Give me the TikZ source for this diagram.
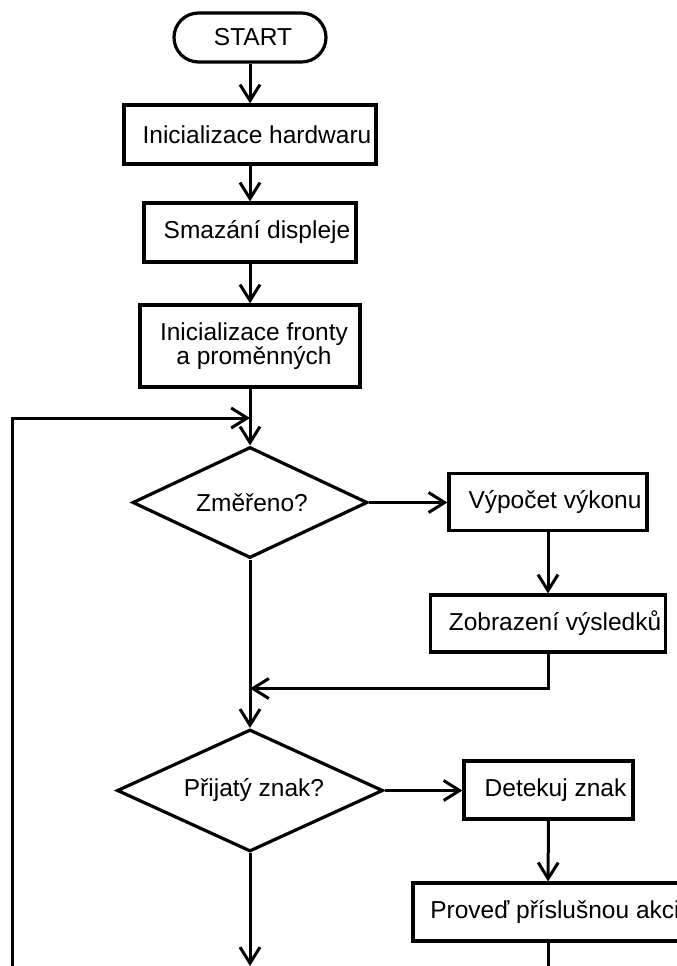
\documentclass[tikz,border=0pt]{standalone}
\usepackage{fontspec}
\setmainfont{Liberation Sans}
\usetikzlibrary{arrows.meta,shapes.geometric,shapes.misc}

\begin{document}
\begin{tikzpicture}[x=1pt,y=-1pt,
  every node/.style={font=\fontsize{24.5}{23}\selectfont},
  block/.style={draw, rectangle, line width=3.2pt, inner sep=0pt},
  decision/.style={draw, diamond, line width=3.2pt, inner sep=0pt},
  terminal/.style={draw, rounded rectangle, line width=3.2pt, inner sep=0pt},
  wire/.style={line width=3pt},
  flow/.style={wire, -{Straight Barb[length=16pt,width=20pt,line width=3pt]}},
  txt/.style={xshift=7pt}
]
\useasboundingbox (0,0) rectangle (677,966);
\clip (0,0) rectangle (677,966);

% main column
\node[terminal, minimum width=152pt, minimum height=49pt,
      label={[xshift=3pt]center:START}] (start) at (250,37.5) {};
\node[block, minimum width=252pt, minimum height=59pt,
      label={[txt]center:Inicializace hardwaru}] (hw) at (250,134.5) {};
\node[block, minimum width=212pt, minimum height=59pt,
      label={[txt]center:Smazání displeje}] (clr) at (250,232.5) {};
\node[block, minimum width=220pt, minimum height=82pt,
      label={[xshift=4pt, align=center]center:Inicializace fronty\\ a proměnných}] (init) at (250,346) {};
\node[decision, minimum width=235pt, minimum height=111pt,
      label={[xshift=2pt]center:Změřeno?}] (meas) at (250,502.5) {};
\node[decision, minimum width=266pt, minimum height=122pt,
      label={[xshift=4pt]center:Přijatý znak?}] (recv) at (250,790.5) {};

% right column
\node[block, minimum width=198pt, minimum height=57pt,
      label={[txt]center:Výpočet výkonu}] (calc) at (548,502) {};
\node[block, minimum width=235pt, minimum height=57pt,
      label={[txt]center:Zobrazení výsledků}] (show) at (548,623.5) {};
\node[block, minimum width=169pt, minimum height=58pt,
      label={[txt]center:Detekuj znak}] (detect) at (548.5,790) {};
\node[block, minimum width=270pt, minimum height=58pt,
      label={[txt]center:Proveď příslušnou akci}] (act) at (548,912) {};

% free ends and junctions
\coordinate (loopin) at (250,418);
\coordinate (loopstart) at (12.7,990);
\coordinate (join) at (250,688.5);
\coordinate (out) at (250,966);
\coordinate (actout) at (548,990);

% connectors
\draw[flow] (start) -- (hw);
\draw[flow] (hw) -- (clr);
\draw[flow] (clr) -- (init);
\draw[flow] (init) -- (meas);
\draw[flow] (loopstart) |- (loopin);
\draw[flow] (meas.east) -- (meas.east -| calc.west);
\draw[flow] (calc) -- (show);
\draw[flow] (show.south) |- (join);
\draw[flow] (meas.south) -- (recv.north);
\draw[flow] (recv.east) -- (recv.east -| detect.west);
\draw[flow] (detect) -- (act);
\draw[flow] (recv.south) -- (out);
\draw[wire] (act.south) -- (actout);
\end{tikzpicture}
\end{document}
